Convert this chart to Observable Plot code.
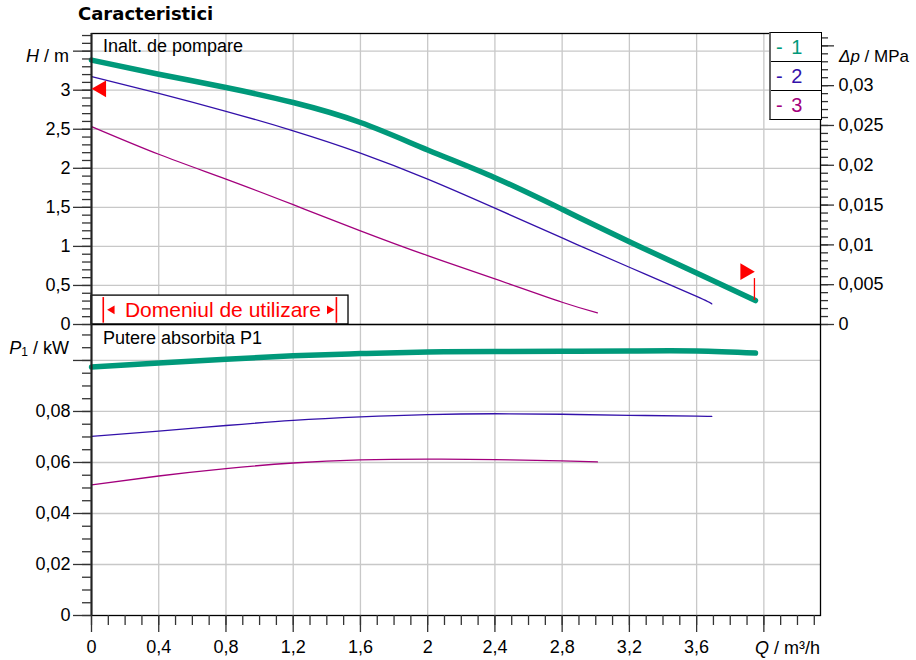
<!DOCTYPE html>
<html><head><meta charset="utf-8">
<script src="https://cdn.jsdelivr.net/npm/d3@7"></script>
<script src="https://cdn.jsdelivr.net/npm/@observablehq/plot@0.6"></script>
<style>
body{margin:0;background:#fff;}
#wrap{position:relative;width:916px;height:660px;font-family:"Liberation Sans",Arial,sans-serif;color:#000;overflow:hidden;}
#wrap svg{position:absolute;left:0;overflow:visible;}
.lbl{position:absolute;font-size:18px;white-space:nowrap;line-height:18px;}
#title{position:absolute;left:78px;top:4px;font-family:"DejaVu Sans",sans-serif;font-weight:bold;font-size:18px;line-height:20px;}
#legend{position:absolute;left:769px;top:32px;width:50px;background:#fff;border:1.3px solid #000;border-left:2px solid #666;}
#legend div{height:28px;line-height:28px;font-size:20px;padding-left:5px;border-top:1.3px solid #000;word-spacing:3px;}
#legend div:first-child{border-top:none;}
</style></head><body><div id="wrap"></div>
<script>
// ---- data ----
const seriesNames = ["1", "2", "3"];
const seriesColors = ["#00997a", "#3311aa", "#a3007d"];
const seriesWidths = [5.5, 1.3, 1.3];

const Q1 = [0, 0.4, 0.8, 1.2, 1.6, 2.0, 2.4, 2.8, 3.2, 3.6, 3.95];
const H1 = [3.385, 3.205, 3.034, 2.842, 2.586, 2.235, 1.88, 1.475, 1.06, 0.66, 0.307];
const P1 = [0.0974, 0.0990, 0.1005, 0.1018, 0.1027, 0.1033, 0.1035, 0.1036, 0.1037, 0.1037, 0.1029];

const Q2 = [0, 0.4, 0.8, 1.2, 1.6, 2.0, 2.4, 2.8, 3.2, 3.6, 3.69];
const H2 = [3.174, 2.96, 2.73, 2.48, 2.195, 1.862, 1.49, 1.108, 0.733, 0.36, 0.264];
const P2 = [0.0702, 0.0723, 0.0745, 0.0765, 0.0779, 0.0788, 0.0791, 0.0789, 0.0785, 0.0782, 0.0781];

const Q3 = [0, 0.4, 0.8, 1.2, 1.6, 2.0, 2.4, 2.8, 3.01];
const H3 = [2.535, 2.18, 1.862, 1.534, 1.2, 0.882, 0.584, 0.285, 0.15];
const P3 = [0.0512, 0.0547, 0.0576, 0.0598, 0.0610, 0.0613, 0.0611, 0.0606, 0.0602];

// axis ticks
const qMajor = [0, 0.4, 0.8, 1.2, 1.6, 2.0, 2.4, 2.8, 3.2, 3.6, 4.0];
const qLabels = ["0", "0,4", "0,8", "1,2", "1,6", "2", "2,4", "2,8", "3,2", "3,6", ""];
const hMajor = [0, 0.5, 1, 1.5, 2, 2.5, 3, 3.5];
const hLabels = ["0", "0,5", "1", "1,5", "2", "2,5", "3", ""];
const dpMajor = [0, 0.005, 0.01, 0.015, 0.02, 0.025, 0.03, 0.035];
const dpLabels = ["0", "0,005", "0,01", "0,015", "0,02", "0,025", "0,03", ""];
const pMajor = [0, 0.02, 0.04, 0.06, 0.08, 0.1];
const pLabels = ["0", "0,02", "0,04", "0,06", "0,08", ""];

// domains and conversion (1 m water column = 0.00981 MPa)
const qMax = 4.337, hMax = 3.726, pMax = 0.1141, mPaPerM = 0.00981;

// annotations (data units)
const useBox = {x1: 0, x2: 1.529, y1: 0, y2: 0.37};
const useBars = [0.07, 1.457];
const useBarSpan = {y1: 0.017, y2: 0.345};
const useText = {Q: 0.782, H: 0.18, label: "Domeniul de utilizare"};
const useArrowL = [{Q: 0.1225, H: 0.188}];
const useArrowR = [{Q: 1.416, H: 0.188}];
const markLeft = [{Q: 0.058, H: 3.017}];
const markRight = [{Q: 3.889, H: 0.677}];
const markRule = {Q: 3.944, y1: 0.307, y2: 0.588};

// ---- build tables ----
const series = [[Q1, H1, P1], [Q2, H2, P2], [Q3, H3, P3]];
const rows = series.flatMap(([Q, H, P], s) => Q.map((q, i) => ({s, Q: q, H: H[i], P: P[i]})));
const minorQ = d3.range(0, 44).map(i => i / 10);
const minorH = d3.range(0, 38).map(i => i / 10).filter(d => d <= hMax);
const minorDp = d3.range(0, 37).map(i => i / 1000).filter(d => d / mPaPerM <= hMax);
const minorP = d3.range(0, 23).map(i => i * 0.005).filter(d => d <= pMax);
const lab = (ticks, labels) => d => labels[ticks.findIndex(t => Math.abs(t - d) < 1e-9)] ?? "";

const font = "Liberation Sans, Arial, sans-serif";
const gridStyle = {stroke: "#c8c8c8", strokeOpacity: 1, strokeWidth: 1.3};
const tickStyle = {stroke: "#333", strokeWidth: 1.3, fontSize: 18, label: null};
const order = [2, 1, 0];

const topPlot = Plot.plot({
  width: 916, height: 324,
  marginTop: 33, marginBottom: 0, marginLeft: 91, marginRight: 96,
  x: {domain: [0, qMax], axis: null, label: null},
  y: {domain: [0, hMax], label: null},
  style: {fontFamily: font, fontSize: "18px", overflow: "visible", background: "transparent"},
  marks: [
    Plot.gridX(qMajor.slice(1), gridStyle),
    Plot.gridY(hMajor.slice(1), gridStyle),
    Plot.rect([useBox], {x1: "x1", x2: "x2", y1: "y1", y2: "y2", fill: "white", stroke: "black", strokeWidth: 1.3}),
    ...order.map(s => Plot.line(rows.filter(d => d.s === s), {
      x: "Q", y: "H", stroke: seriesColors[s], strokeWidth: seriesWidths[s], curve: "natural", strokeLinecap: "round"
    })),
    Plot.frame({stroke: "black", strokeWidth: 1.3}),
    Plot.ruleX([0], {stroke: "#222", strokeWidth: 2}),
    Plot.axisY(minorH, {...tickStyle, anchor: "left", tickSize: 9, fill: "none"}),
    Plot.axisY(hMajor, {...tickStyle, anchor: "left", tickSize: 18, tickPadding: 3, tickFormat: lab(hMajor, hLabels)}),
    Plot.axisY(minorDp.map(d => d / mPaPerM), {...tickStyle, anchor: "right", tickSize: 7, fill: "none"}),
    Plot.axisY(dpMajor.map(d => d / mPaPerM), {...tickStyle, anchor: "right", tickSize: 13, tickPadding: 5,
      tickFormat: d => lab(dpMajor, dpLabels)(Math.round(d * mPaPerM * 1000) / 1000)}),
    Plot.ruleX(useBars, {y1: useBarSpan.y1, y2: useBarSpan.y2, stroke: "red", strokeWidth: 1.6}),
    Plot.dot(useArrowL, {x: "Q", y: "H", symbol: "triangle", r: 3.2, rotate: -90, fill: "red", stroke: "none"}),
    Plot.dot(useArrowR, {x: "Q", y: "H", symbol: "triangle", r: 3.2, rotate: 90, fill: "red", stroke: "none"}),
    Plot.text([useText], {x: "Q", y: "H", text: d => d.label, fill: "red", fontSize: 21, textAnchor: "middle", lineAnchor: "middle", fontFamily: font}),
    Plot.dot(markLeft, {x: "Q", y: "H", symbol: "triangle", r: 6.2, rotate: -90, fill: "red", stroke: "none"}),
    Plot.dot(markRight, {x: "Q", y: "H", symbol: "triangle", r: 6.2, rotate: 90, fill: "red", stroke: "none"}),
    Plot.ruleX([markRule], {x: "Q", y1: "y1", y2: "y2", stroke: "red", strokeWidth: 1.3})
  ]
});

const bottomPlot = Plot.plot({
  width: 916, height: 336,
  marginTop: 0, marginBottom: 45, marginLeft: 91, marginRight: 96,
  x: {domain: [0, qMax], label: null},
  y: {domain: [0, pMax], label: null},
  style: {fontFamily: font, fontSize: "18px", overflow: "visible", background: "transparent"},
  marks: [
    Plot.gridX(qMajor.slice(1), gridStyle),
    Plot.gridY(pMajor.slice(1), gridStyle),
    ...order.map(s => Plot.line(rows.filter(d => d.s === s), {
      x: "Q", y: "P", stroke: seriesColors[s], strokeWidth: seriesWidths[s], curve: "natural", strokeLinecap: "round"
    })),
    Plot.frame({stroke: "black", strokeWidth: 1.3}),
    Plot.ruleX([0], {stroke: "#222", strokeWidth: 2}),
    Plot.axisY(minorP, {...tickStyle, anchor: "left", tickSize: 9, fill: "none"}),
    Plot.axisY(pMajor, {...tickStyle, anchor: "left", tickSize: 18, tickPadding: 3, tickFormat: lab(pMajor, pLabels)}),
    Plot.axisX(minorQ, {...tickStyle, anchor: "bottom", tickSize: 10, fill: "none"}),
    Plot.axisX(qMajor, {...tickStyle, anchor: "bottom", tickSize: 17, tickPadding: 8, tickFormat: lab(qMajor, qLabels)})
  ]
});

const wrap = document.getElementById("wrap");
topPlot.style.top = "0px";
bottomPlot.style.top = "324px";
wrap.appendChild(topPlot);
wrap.appendChild(bottomPlot);

const html = (s) => { const t = document.createElement("template"); t.innerHTML = s.trim(); return t.content.firstChild; };
wrap.appendChild(html(`<div id="title">Caracteristici</div>`));
wrap.appendChild(html(`<div class="lbl" style="left:103px;top:37px">Inalt. de pompare</div>`));
wrap.appendChild(html(`<div class="lbl" style="left:103px;top:329px">Putere absorbita P1</div>`));
wrap.appendChild(html(`<div class="lbl" style="right:${916-69}px;top:47px"><i>H</i> / m</div>`));
wrap.appendChild(html(`<div class="lbl" style="left:839px;top:48px;font-size:17px"><i>Δp</i> / MPa</div>`));
wrap.appendChild(html(`<div class="lbl" style="right:${916-69}px;top:339px"><i>P</i><span style="font-size:12px;position:relative;top:2px">1</span> / kW</div>`));
wrap.appendChild(html(`<div class="lbl" style="right:${916-820}px;top:639px"><i>Q</i> / m³/h</div>`));
const leg = html(`<div id="legend"></div>`);
seriesNames.forEach((n, i) => {
  const d = document.createElement("div");
  d.style.color = seriesColors[i];
  d.textContent = "- " + n;
  leg.appendChild(d);
});
wrap.appendChild(leg);
</script></body></html>
